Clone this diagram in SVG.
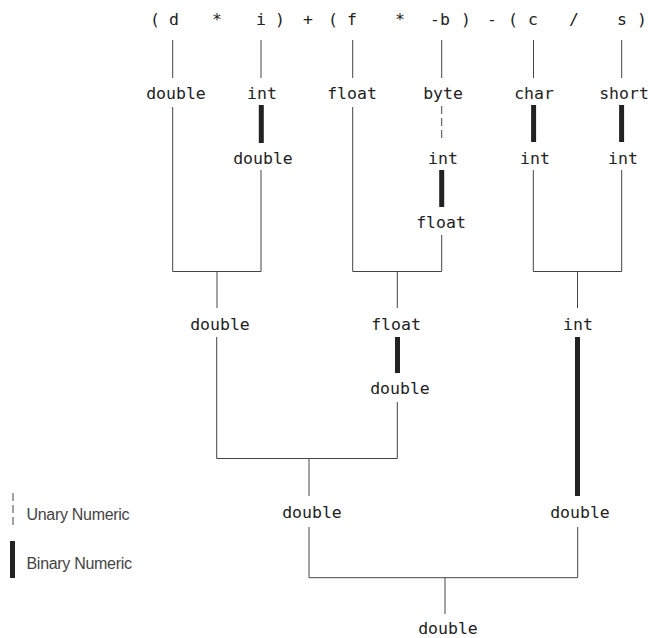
<svg xmlns="http://www.w3.org/2000/svg" width="653" height="638" viewBox="0 0 653 638">
<style>
.t{font-family:"DejaVu Sans Mono","Liberation Mono",monospace;font-size:16.5px;fill:#222;text-anchor:middle}
.l{font-family:"Liberation Sans",Arial,sans-serif;font-size:16px;fill:#444;letter-spacing:-0.3px}
.c line,.c path{stroke:#444;stroke-width:1;fill:none}
.c .u{stroke-dasharray:8 4}
.c .b{stroke:#222;stroke-width:5}
</style>
<rect width="653" height="638" fill="#fff"/>
<g id="expr" class="t">
<text x="155" y="25">(</text><text x="174" y="25">d</text><text x="217" y="25">*</text><text x="261" y="25">i</text><text x="280" y="25">)</text><text x="308" y="25">+</text><text x="333" y="25">(</text><text x="352" y="25">f</text><text x="400" y="25">*</text><text x="440" y="25">-b</text><text x="466" y="25">)</text><text x="492" y="25">-</text><text x="513" y="25">(</text><text x="533" y="25">c</text><text x="574" y="25">/</text><text x="622" y="25">s</text><text x="642" y="25">)</text>
</g>
<g id="n_d" class="t"><text x="176" y="99">double</text></g>
<g id="n_i" class="t"><text x="262" y="99">int</text></g>
<g id="n_f" class="t"><text x="352" y="99">float</text></g>
<g id="n_b" class="t"><text x="443" y="99">byte</text></g>
<g id="n_c" class="t"><text x="534" y="99">char</text></g>
<g id="n_s" class="t"><text x="624" y="99">short</text></g>
<g id="n_i2" class="t"><text x="263" y="164">double</text></g>
<g id="n_b2" class="t"><text x="443" y="164">int</text></g>
<g id="n_c2" class="t"><text x="535" y="164">int</text></g>
<g id="n_s2" class="t"><text x="623" y="164">int</text></g>
<g id="n_b3" class="t"><text x="441" y="228">float</text></g>
<g id="n_di" class="t"><text x="220" y="330">double</text></g>
<g id="n_fb" class="t"><text x="396" y="330">float</text></g>
<g id="n_cs" class="t"><text x="578" y="330">int</text></g>
<g id="n_fb2" class="t"><text x="400" y="394">double</text></g>
<g id="n_left" class="t"><text x="312" y="518">double</text></g>
<g id="n_right" class="t"><text x="580" y="518">double</text></g>
<g id="n_result" class="t"><text x="448" y="634">double</text></g>
<g id="connectors" class="c">
<line x1="172.7" y1="40" x2="172.7" y2="78"/>
<line x1="261" y1="40" x2="261" y2="78"/>
<line x1="352.7" y1="40" x2="352.7" y2="78"/>
<line x1="441.7" y1="40" x2="441.7" y2="78"/>
<line x1="533.5" y1="40" x2="533.5" y2="78"/>
<line x1="621.7" y1="40" x2="621.7" y2="78"/>
<line class="b" x1="261.3" y1="105" x2="261.3" y2="143"/>
<line class="u" x1="441.7" y1="106" x2="441.7" y2="142"/>
<line class="b" x1="533.6" y1="105" x2="533.6" y2="142"/>
<line class="b" x1="621.6" y1="105" x2="621.6" y2="142"/>
<line class="b" x1="441.7" y1="170" x2="441.7" y2="207"/>
<path d="M172.7 107V271.5H261V170"/>
<path d="M352.7 107V271.5H441.7V235"/>
<path d="M533.3 170V271.5H621.7V170"/>
<line x1="217" y1="271.5" x2="217" y2="308"/>
<line x1="397.3" y1="271.5" x2="397.3" y2="308"/>
<line x1="577.5" y1="271.5" x2="577.5" y2="308"/>
<line class="b" x1="397.5" y1="337" x2="397.5" y2="373"/>
<path d="M216.7 337V458.5H397.3V402"/>
<line x1="309" y1="458.5" x2="309" y2="496"/>
<line class="b" x1="577.5" y1="337" x2="577.5" y2="496"/>
<path d="M309 527V577.7H577.7V527"/>
<line x1="445" y1="577.7" x2="445" y2="614"/>
<line class="u" x1="13" y1="493" x2="13" y2="529"/>
<line class="b" x1="12.5" y1="541" x2="12.5" y2="578"/>
</g>
<g id="legend" class="l">
<text x="26.5" y="520">Unary Numeric</text>
<text x="26.5" y="569">Binary Numeric</text>
</g>
</svg>
